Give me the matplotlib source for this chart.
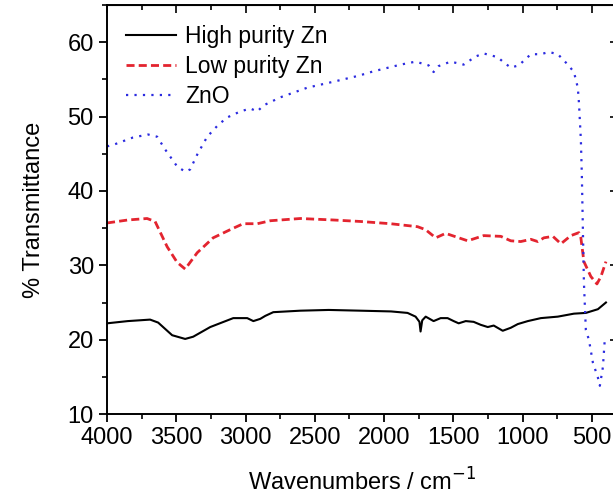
# FTIR spectra of Zn / ZnO samples
import matplotlib
matplotlib.use("Agg")
from matplotlib import pyplot as plt
from matplotlib.ticker import MultipleLocator

plt.rcParams['font.family'] = ['Liberation Sans', 'DejaVu Sans']

# data
wn_high = [4000, 3850, 3689, 3631, 3530, 3436, 3378, 3255, 3089, 2988, 2944, 2894,
           2858, 2800, 2605, 2400, 2170, 1950, 1831, 1773, 1745, 1737, 1725, 1700,
           1643, 1592, 1542, 1498, 1462, 1411, 1354, 1303, 1252, 1209, 1144, 1086,
           1035, 963, 869, 746, 630, 544, 457, 399]
t_high = [22.2, 22.5, 22.7, 22.3, 20.6, 20.1, 20.4, 21.7, 22.9, 22.9, 22.5, 22.8,
          23.2, 23.7, 23.9, 24.0, 23.9, 23.8, 23.6, 23.1, 22.4, 21.1, 22.6, 23.1,
          22.5, 22.9, 22.9, 22.5, 22.2, 22.5, 22.4, 22.0, 21.7, 21.9, 21.2, 21.6,
          22.1, 22.5, 22.9, 23.1, 23.5, 23.6, 24.1, 25.0]

wn_low = [4000, 3850, 3711, 3653, 3566, 3494, 3436, 3349, 3234, 3111, 3017, 2915,
          2821, 2605, 2366, 2171, 1954, 1759, 1701, 1628, 1556, 1397, 1281, 1158,
          1086, 1014, 941, 891, 847, 782, 724, 652, 594, 580, 558, 508, 464, 435, 399]
t_low = [35.7, 36.1, 36.3, 35.9, 32.5, 30.4, 29.5, 31.7, 33.7, 34.8, 35.6, 35.6,
         36.0, 36.3, 36.1, 35.9, 35.6, 35.2, 34.8, 33.7, 34.3, 33.3, 34.0, 33.9,
         33.3, 33.2, 33.5, 33.2, 33.7, 33.9, 32.9, 34.0, 34.4, 33.7, 30.5, 28.5,
         27.5, 28.5, 30.5]

wn_zno = [4000, 3942, 3812, 3704, 3638, 3581, 3494, 3436, 3400, 3349, 3277, 3197,
          3132, 3038, 2966, 2915, 2872, 2749, 2554, 2366, 2185, 2077, 1881, 1773,
          1679, 1643, 1607, 1520, 1426, 1339, 1281, 1180, 1137, 1086, 1028, 941,
          869, 811, 746, 674, 630, 602, 594, 580, 573, 558, 544, 522, 493, 457,
          443, 421, 406]
t_zno = [46.0, 46.3, 47.2, 47.6, 47.3, 45.6, 43.3, 42.6, 42.9, 44.9, 47.3, 48.9,
         49.9, 50.7, 51.1, 50.7, 51.5, 52.6, 53.9, 54.7, 55.5, 56.1, 57.0, 57.4,
         56.9, 56.0, 56.8, 57.4, 57.0, 58.1, 58.5, 58.0, 57.3, 56.6, 56.9, 58.4,
         58.4, 58.7, 58.4, 57.0, 56.0, 53.9, 51.9, 46.9, 42.2, 27.7, 21.3, 20.0,
         16.9, 14.9, 13.8, 16.3, 20.4]

labels = ['High purity Zn', 'Low purity Zn', 'ZnO']

fig = plt.figure(figsize=(6.13, 4.95), dpi=100)
ax = fig.add_axes([0.1746, 0.1636, 0.834, 0.826])

ax.plot(wn_high, t_high, color='black', lw=1.5, label=labels[0])
ax.plot(wn_low, t_low, color='#e3242f', lw=2.0, ls=(0, (2.9, 1.5)), label=labels[1])
ax.plot(wn_zno, t_zno, color='#2b2be0', lw=1.6, ls=(0, (1, 2.8)), label=labels[2])

ax.set_xlim(4000, 310)
ax.set_ylim(10, 65)
ax.xaxis.set_major_locator(MultipleLocator(500))
ax.xaxis.set_minor_locator(MultipleLocator(250))
ax.yaxis.set_major_locator(MultipleLocator(10))
ax.yaxis.set_minor_locator(MultipleLocator(5))
ax.tick_params(which='major', direction='out', length=6, width=1.3, labelsize=17)
ax.tick_params(which='minor', direction='out', length=3.5, width=1.2)
for sp in ax.spines.values():
    sp.set_linewidth(1.4)

# top and right ticks point inward
top = ax.secondary_xaxis('top')
top.xaxis.set_major_locator(MultipleLocator(500))
top.xaxis.set_minor_locator(MultipleLocator(250))
top.tick_params(which='both', direction='in', labeltop=False, width=1.2)
top.tick_params(which='major', length=6)
top.tick_params(which='minor', length=3.5)
right = ax.secondary_yaxis('right')
right.yaxis.set_major_locator(MultipleLocator(10))
right.yaxis.set_minor_locator(MultipleLocator(5))
right.tick_params(which='both', direction='in', labelright=False, width=1.2)
right.tick_params(which='major', length=6)
right.tick_params(which='minor', length=3.5)

ax.set_xlabel('Wavenumbers / cm$^{-1}$', fontsize=17, labelpad=14)
ax.set_ylabel('% Transmittance', fontsize=17, labelpad=16)

ax.legend(loc='upper left', frameon=False, fontsize=16.5, handlelength=2.2,
          handletextpad=0.4, labelspacing=0.3, borderaxespad=0.3,
          bbox_to_anchor=(0.005, 0.99))

fig.savefig('out.png', dpi=100)
